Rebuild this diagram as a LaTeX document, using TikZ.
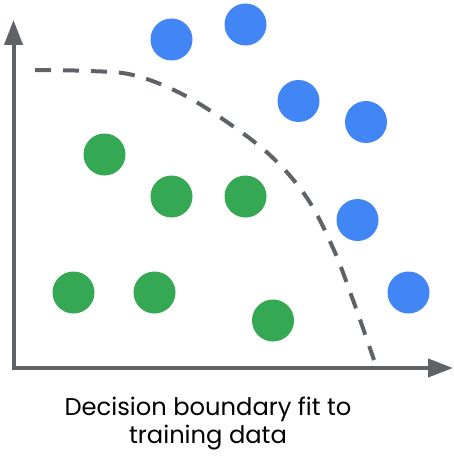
\documentclass[tikz,border=0pt]{standalone}
\usepackage{fontspec}
\setmainfont{Poppins}
\usetikzlibrary{arrows.meta}
\definecolor{gblue}{HTML}{4285F4}
\definecolor{ggreen}{HTML}{34A853}
\definecolor{ggray}{HTML}{5F6368}
\begin{document}
\begin{tikzpicture}[x=1pt,y=-1pt,
  dot/.style={circle,minimum size=42pt,inner sep=0pt,draw=none},
  bluedot/.style={dot,fill=gblue},
  greendot/.style={dot,fill=ggreen},
  axis/.style={draw=ggray,line width=4pt,-{Triangle[length=25pt,width=18pt]}},
  boundary/.style={draw=ggray,line width=4pt,dash pattern=on 16pt off 12pt}]
\useasboundingbox (0,0) rectangle (453,460);
\coordinate (origin) at (13.5,368);
\coordinate (ytop) at (13.5,20);
\coordinate (xend) at (453,368);
\draw[axis] (origin) -- (ytop);
\draw[axis] ([xshift=-2pt]origin) -- (xend);
\draw[boundary] plot[smooth,tension=0.6] coordinates {(35,70) (90,71) (133,75) (180,93) (227,122) (272,157) (307,198) (333,248) (353,300) (374,360)};
\node[bluedot] (b1) at (171.5,39.5) {};
\node[bluedot] (b2) at (245.5,24.5) {};
\node[bluedot] (b3) at (298.5,101) {};
\node[bluedot] (b4) at (366,122) {};
\node[bluedot] (b5) at (357.5,220) {};
\node[bluedot] (b6) at (408.5,292.5) {};
\node[greendot] (g1) at (104.5,154.5) {};
\node[greendot] (g2) at (171.5,196.5) {};
\node[greendot] (g3) at (245.5,196.5) {};
\node[greendot] (g4) at (73.5,292.5) {};
\node[greendot] (g5) at (154.5,292.5) {};
\node[greendot] (g6) at (273,320.5) {};
\node[align=center,font=\fontsize{24.2}{28}\selectfont,text=black] (cap) at (208,424) {Decision boundary fit to\\training data};
\end{tikzpicture}
\end{document}
